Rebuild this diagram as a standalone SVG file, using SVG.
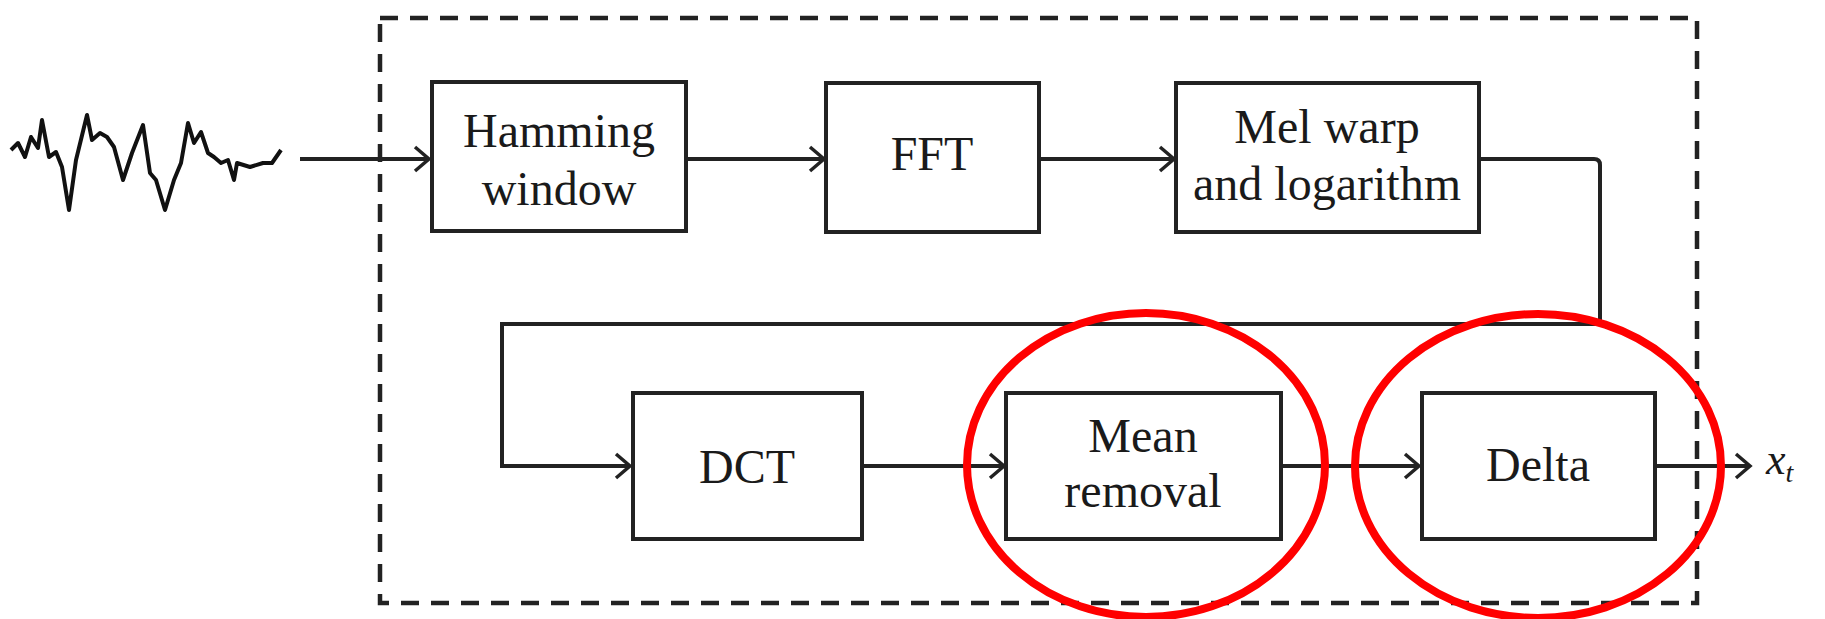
<svg xmlns="http://www.w3.org/2000/svg" width="1825" height="619" viewBox="0 0 1825 619">
<style>
.box{fill:#fff;stroke:#222;stroke-width:4}
.lbl{font-family:"Liberation Serif",serif;font-size:48px;fill:#1a1a1a;text-anchor:middle}
.conn{fill:none;stroke:#222;stroke-width:4}
.frame{fill:none;stroke:#222;stroke-width:4.5;stroke-dasharray:18 12}
.ring{fill:none;stroke:#f00;stroke-width:8}
</style>
<defs>
<marker id="arr" markerWidth="20" markerHeight="30" refX="17" refY="14" orient="auto" markerUnits="userSpaceOnUse">
<path d="M3,2 L17,14 L3,26" fill="none" stroke="#222" stroke-width="3.5"/>
</marker>
</defs>
<rect width="1825" height="619" fill="#fff"/>
<rect class="frame" x="380" y="18" width="1317" height="585"/>
<g id="waveform">
<polyline fill="none" stroke="#111" stroke-width="4" stroke-linejoin="round" points="11,150 18,143 25,157 31,137 38,148 42,120 49,157 56,152 62,167 69,210 76,160 87,115 92,140 100,133 107,137 114,147 123,180 132,153 143,125 150,173 156,180 165,210 174,180 181,163 188,123 194,143 201,132 208,153 214,157 221,163 228,160 234,180 237,163 250,167 263,163 272,163 281,150"/>
</g>
<g id="connectors">
<line class="conn" x1="300" y1="159" x2="429" y2="159" marker-end="url(#arr)"/>
<line class="conn" x1="686" y1="159" x2="824" y2="159" marker-end="url(#arr)"/>
<line class="conn" x1="1039" y1="159" x2="1174" y2="159" marker-end="url(#arr)"/>
<path class="conn" d="M1479,159 H1594 Q1600,159 1600,165 V324 H502 V466 H630" marker-end="url(#arr)"/>
<line class="conn" x1="862" y1="466" x2="1004" y2="466" marker-end="url(#arr)"/>
<line class="conn" x1="1281" y1="466" x2="1419" y2="466" marker-end="url(#arr)"/>
<line class="conn" x1="1655" y1="466" x2="1750" y2="466" marker-end="url(#arr)"/>
</g>
<g id="hamming">
<rect class="box" x="432" y="82" width="254" height="149"/>
<text class="lbl" x="559" y="147">Hamming</text>
<text class="lbl" x="559" y="205">window</text>
</g>
<g id="fft">
<rect class="box" x="826" y="83" width="213" height="149"/>
<text class="lbl" x="932" y="170">FFT</text>
</g>
<g id="mel">
<rect class="box" x="1176" y="83" width="303" height="149"/>
<text class="lbl" x="1327" y="143">Mel warp</text>
<text class="lbl" x="1327" y="200">and logarithm</text>
</g>
<g id="dct">
<rect class="box" x="633" y="393" width="229" height="146"/>
<text class="lbl" x="747" y="483">DCT</text>
</g>
<g id="mean">
<rect class="box" x="1006" y="393" width="275" height="146"/>
<text class="lbl" x="1143" y="452">Mean</text>
<text class="lbl" x="1143" y="507">removal</text>
</g>
<g id="delta">
<rect class="box" x="1422" y="393" width="233" height="146"/>
<text class="lbl" x="1538" y="481">Delta</text>
</g>
<g id="output">
<text x="1766" y="474" font-family="'Liberation Serif',serif" font-size="44" font-style="italic" fill="#1a1a1a">x<tspan font-size="28" dy="8">t</tspan></text>
</g>
<g id="highlights">
<ellipse class="ring" cx="1146" cy="465" rx="179" ry="152"/>
<ellipse class="ring" cx="1538" cy="466" rx="183" ry="152"/>
</g>
</svg>
